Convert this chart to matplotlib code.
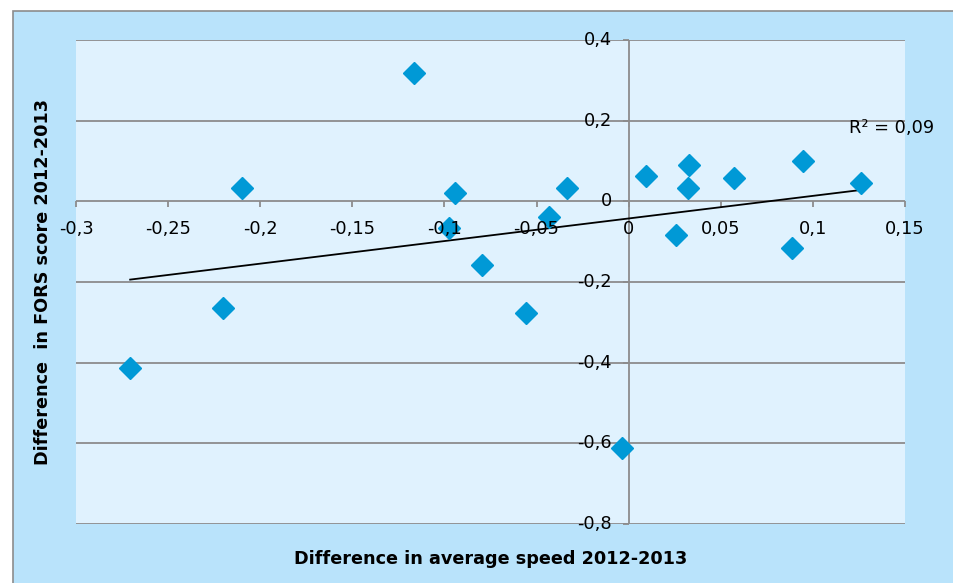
import numpy as np
import matplotlib
matplotlib.use("Agg")
import matplotlib.pyplot as plt
from matplotlib.patches import Rectangle
from matplotlib.transforms import offset_copy

# Data
speed_diff = [-0.1165, -0.2098, -0.0945, -0.0975, -0.0795, -0.0430, -0.0334,
              -0.2203, -0.0560, -0.2706, -0.0037, 0.0093, 0.0330, 0.0321,
              0.0258, 0.0571, 0.0944, 0.0885, 0.1260]
fors_diff = [0.318, 0.034, 0.020, -0.065, -0.157, -0.039, 0.034,
             -0.264, -0.278, -0.413, -0.612, 0.063, 0.089, 0.034,
             -0.084, 0.059, 0.099, -0.115, 0.045]
x_ticks = [-0.3, -0.25, -0.2, -0.15, -0.1, -0.05, 0, 0.05, 0.1, 0.15]
y_ticks = [-0.8, -0.6, -0.4, -0.2, 0, 0.2, 0.4]
x_label = "Difference in average speed 2012-2013"
y_label = "Difference  in FORS score 2012-2013"

W, H = 954, 583
fig = plt.figure(figsize=(W / 100, H / 100), dpi=100)
fig.patch.set_facecolor("white")

# outer chart area (border only visible at left and top)
outer = Rectangle((13 / W, -0.1), 1.2, 1.1 - 11 / H, transform=fig.transFigure,
                  facecolor="#B9E3FB", edgecolor="#8C8C8C", linewidth=1.2, zorder=-5)
fig.add_artist(outer)

ax = fig.add_axes([76 / W, 1 - 524 / H, (905 - 76) / W, (524 - 40) / H], zorder=1)
ax.set_facecolor("#E0F2FE")
ax.set_xlim(-0.3, 0.15)
ax.set_ylim(-0.8, 0.4)
for s in ax.spines.values():
    s.set_visible(False)
ax.set_xticks([])
ax.set_yticks([])

grid_c = "#8C8C8C"
for yt in y_ticks:
    ax.axhline(yt, color=grid_c, linewidth=1.3, zorder=1)
ax.axvline(0, color=grid_c, linewidth=1.3, zorder=1)


def fmt(v):
    return ("%g" % round(v, 2)).replace(".", ",")


tick_font = dict(fontsize=12.8, color="black", family="DejaVu Sans")

# x tick marks + labels along y = 0
for xt in x_ticks:
    ax.plot([xt], [0], marker="|", markersize=5, markeredgewidth=1.3, color=grid_c,
            clip_on=False, zorder=1,
            transform=offset_copy(ax.transData, fig=fig, x=0, y=-3, units="dots"))
    ax.annotate(fmt(xt), xy=(xt, 0), xytext=(0, -19), textcoords="offset pixels",
                ha="center", va="top", zorder=4, **tick_font)

# y tick marks + labels along x = 0
for yt in y_ticks:
    ax.plot([0], [yt], marker="_", markersize=5, markeredgewidth=1.3, color=grid_c,
            clip_on=False, zorder=1,
            transform=offset_copy(ax.transData, fig=fig, x=-3, y=0, units="dots"))
    ax.annotate(fmt(yt), xy=(0, yt), xytext=(-17, 0), textcoords="offset pixels",
                ha="right", va="center", zorder=4, **tick_font)

# scatter points
ax.plot(speed_diff, fors_diff, linestyle="none", marker="D", markersize=11,
        color="#0099D6", markeredgecolor="#0099D6", zorder=3, clip_on=False)

# linear trendline
xs = np.array(speed_diff)
ys = np.array(fors_diff)
k, b = np.polyfit(xs, ys, 1)
xl = np.array([xs.min(), xs.max()])
ax.plot(xl, k * xl + b, color="black", linewidth=1.3, zorder=2)
pred = k * xs + b
r2 = 1 - np.sum((ys - pred) ** 2) / np.sum((ys - ys.mean()) ** 2)
ax.text(0.1195, 0.182, "R² = " + ("%.2f" % r2).replace(".", ","), ha="left", va="center",
        fontsize=12.8, family="DejaVu Sans", clip_on=False, zorder=4)

fig.text(490.5 / W, 1 - 559 / H, x_label, ha="center", va="center",
         fontsize=12.7, fontweight="bold", family="DejaVu Sans")
fig.text(43 / W, 1 - 282 / H, y_label, ha="center", va="center", rotation=90,
         fontsize=12.7, fontweight="bold", family="DejaVu Sans")

fig.savefig("out.png", dpi=100, facecolor=fig.get_facecolor())
